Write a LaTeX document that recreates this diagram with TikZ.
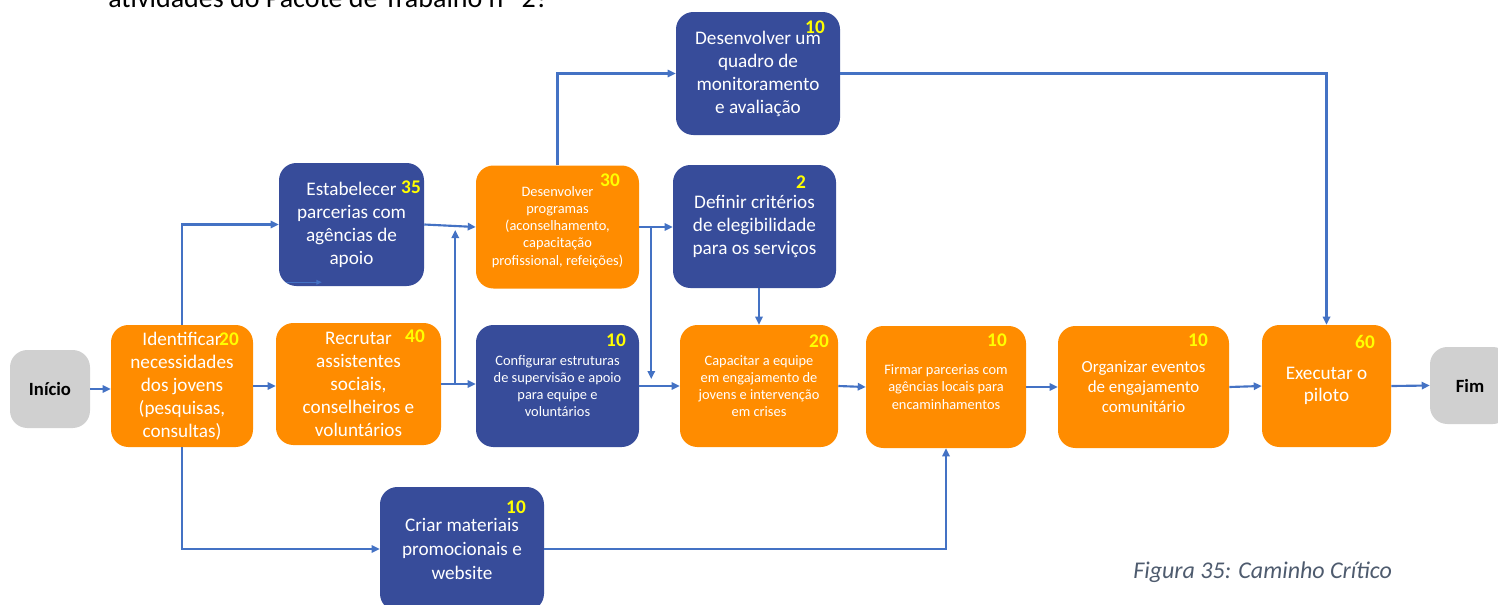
\documentclass[tikz,border=0pt]{standalone}
\usepackage{fontspec}
\setmainfont{Carlito}
\usetikzlibrary{arrows.meta,calc}
\definecolor{borange}{HTML}{FF8C00}
\definecolor{bblue}{HTML}{374C9A}
\definecolor{cline}{HTML}{4472C4}
\definecolor{bgrey}{HTML}{D0D0D0}
\definecolor{capgrey}{HTML}{4E5B6E}
\definecolor{numyel}{HTML}{FFFF00}
\begin{document}
\begin{tikzpicture}[x=0.75pt,y=-0.75pt,
 box/.style={rounded corners=13pt, inner sep=0pt, align=center, text=white},
 ob/.style={box, fill=borange},
 bb/.style={box, fill=bblue},
 gb/.style={box, fill=bgrey, text=black, font=\bfseries\fontsize{14}{16}\selectfont},
 big/.style={font=\fontsize{14.4}{17.25}\selectfont},
 mid/.style={font=\fontsize{12.7}{15}\selectfont},
 small/.style={font=\fontsize{10.8}{12.9}\selectfont},
 num/.style={text=numyel, font=\bfseries\fontsize{14.5}{16}\selectfont, inner sep=0pt},
 arr/.style={draw=cline, line width=1.6pt, -{Triangle[length=6pt,width=5.5pt]}},
 thinarr/.style={draw=cline, line width=0.9pt, -{Triangle[length=4pt,width=3.5pt]}},
]
\useasboundingbox (0,0) rectangle (1498,604);
\clip (0,0) rectangle (1498,604);

\node[anchor=base west, inner sep=0pt, font=\fontsize{21}{24}\selectfont] (head) at (108,7) {atividades do Pacote de Trabalho nº 2?};

\node[gb, minimum width=60pt, minimum height=58.5pt] (start) at (50,389) {Início};
\node[ob, big, minimum width=106.5pt, minimum height=91.5pt] (ident) at (182,386) {Identificar\\necessidades\\dos jovens\\(pesquisas,\\consultas)};
\node[ob, big, minimum width=123.75pt, minimum height=91.5pt] (recr) at (358.5,384) {Recrutar\\assistentes\\sociais,\\conselheiros e\\voluntários};
\node[bb, big, minimum width=108.75pt, minimum height=92.25pt] (estab) at (351.5,224.5) {Estabelecer\\parcerias com\\agências de\\apoio};
\node[ob, small, minimum width=122.25pt, minimum height=92.25pt] (devp) at (557.5,227) {Desenvolver\\programas\\(aconselhamento,\\capacitação\\profissional, refeições)};
\node[bb, small, minimum width=122.25pt, minimum height=91.5pt] (conf) at (557.5,386) {Configurar estruturas\\de supervisão e apoio\\para equipe e\\voluntários};
\node[bb, big, minimum width=123pt, minimum height=92.25pt] (quad) at (758,73.5) {Desenvolver um\\quadro de\\monitoramento\\e avaliação};
\node[bb, big, minimum width=122.25pt, minimum height=92.25pt] (defi) at (754.5,226.5) {Definir critérios\\de elegibilidade\\para os serviços};
\node[ob, small, minimum width=118.5pt, minimum height=91.5pt] (capa) at (759,386) {Capacitar a equipe\\em engajamento de\\jovens e intervenção\\em crises};
\node[ob, small, minimum width=120pt, minimum height=91.5pt] (firm) at (946,387) {Firmar parcerias com\\agências locais para\\encaminhamentos};
\node[ob, mid, minimum width=128.25pt, minimum height=91.5pt] (orga) at (1143.5,387) {Organizar eventos\\de engajamento\\comunitário};
\node[ob, big, minimum width=96.75pt, minimum height=91.5pt, font=\fontsize{14.4}{16.5}\selectfont] (exec) at (1326.5,386) {Executar o\\piloto};
\node[gb, minimum width=60pt, minimum height=57.75pt] (fim) at (1470,385.5) {Fim};
\node[bb, big, minimum width=123pt, minimum height=93pt, font=\fontsize{14.4}{18}\selectfont] (cria) at (462,549) {Criar materiais\\promocionais e\\website};

\node[num] (n1) at (229,339) {20};
\node[num] (n2) at (415,336) {40};
\node[num] (n3) at (411,187) {35};
\node[num] (n4) at (610,180) {30};
\node[num] (n5) at (616,340) {10};
\node[num] (n6) at (815,27) {10};
\node[num] (n7) at (801,182) {2};
\node[num] (n8) at (819,341) {20};
\node[num] (n9) at (997,340) {10};
\node[num] (n10) at (1198,340) {10};
\node[num] (n11) at (1365,342) {60};
\node[num] (n12) at (516,507) {10};

\node[anchor=west, inner sep=0pt, text=capgrey, font=\itshape\fontsize{18}{21}\selectfont] (cap) at (1133,572) {Figura 35: Caminho Crítico};

% connectors
\draw[arr] (start.east) -- (start.east -| ident.west);
\draw[arr] (ident.east) -- (ident.east -| recr.west);
\draw[arr] (ident.north) |- (estab.west);
\draw[arr] (ident.south) |- (cria.west);
\draw[arr] (cria.east) -| (firm.south);
\draw[arr] (recr.east) -- (recr.east -| conf.west);
\coordinate (j1) at ($(recr.east)+(14,0)$);
\draw[arr] (j1) -- ($(j1 |- devp.west)+(0,3)$);
\draw[arr] (estab.east) -- (devp.west);
\draw[arr] (devp.north) |- (quad.west);
\draw[arr] (devp.east) -- (devp.east -| defi.west);
\coordinate (j2) at ($(devp.east)+(12,0)$);
\draw[arr] (j2) -- ($(j2 |- conf.east)+(0,-7)$);
\draw[arr] (conf.east) -- (capa.west);
\draw[arr] (capa.north |- defi.south) -- (capa.north);
\draw[arr] (capa.east) -- (firm.west);
\draw[arr] (firm.east) -- (orga.west);
\draw[arr] (orga.east) -- (exec.west);
\draw[arr] (exec.east) -- (fim.west);
\draw[arr] (quad.east) -| (exec.north);
\draw[thinarr] ($(estab.south west)+(7,-4)$) -- ++(36,0);
\end{tikzpicture}
\end{document}
